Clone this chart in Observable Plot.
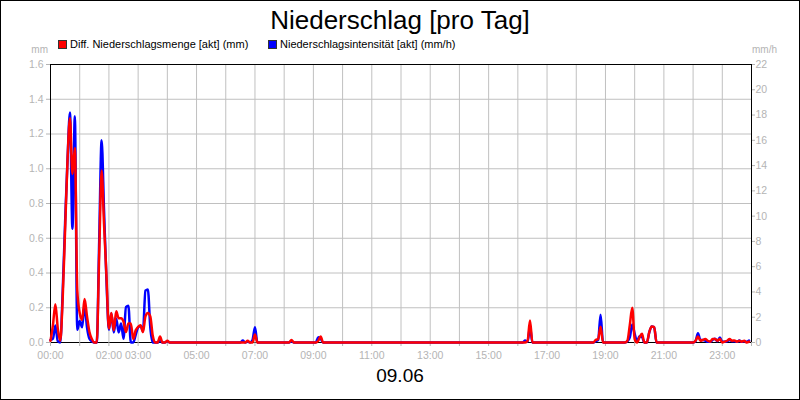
<!DOCTYPE html>
<html>
<head>
<meta charset="utf-8">
<script src="https://cdn.jsdelivr.net/npm/d3@7"></script>
<script src="https://cdn.jsdelivr.net/npm/@observablehq/plot@0.6"></script>
<style>
  html, body { margin: 0; padding: 0; background: #fff; }
  #wrap { position: relative; width: 800px; height: 400px; background: #fff; overflow: hidden;
          font-family: "Liberation Sans", Arial, sans-serif; }
  #wrap > * { position: absolute; }
  #chart { left: 0; top: 0; }
  #border { left: 0; top: 0; width: 800px; height: 400px; box-sizing: border-box; border: 1px solid #000; pointer-events: none; }
  .t { white-space: nowrap; line-height: 1; }
  #title { left: 0; width: 800px; text-align: center; top: 7px; font-size: 26px; color: #000; }
  .leg { font-size: 11px; color: #000; top: 39px; }
  .sw { width: 7px; height: 7px; border: 1px solid #333; top: 40px; }
  .unit { font-size: 10px; color: #b4b4b4; top: 45px; }
  #date { left: 0; width: 800px; text-align: center; top: 366px; font-size: 19px; color: #000; }
</style>
</head>
<body>
<div id="wrap">
  <div id="chart"></div>
  <div id="title" class="t"></div>
  <div id="sw1" class="sw" style="left:58px;background:#ff0000"></div>
  <div id="leg1" class="t leg" style="left:70px"></div>
  <div id="sw2" class="sw" style="left:268px;background:#0000ff"></div>
  <div id="leg2" class="t leg" style="left:280px"></div>
  <div id="unitL" class="t unit" style="right:752px"></div>
  <div id="unitR" class="t unit" style="left:752px"></div>
  <div id="date" class="t"></div>
  <div id="border"></div>
</div>
<script>
// ---- texts ----
const titleText = "Niederschlag [pro Tag]";
const seriesNames = ["Diff. Niederschlagsmenge [akt] (mm)", "Niederschlagsintensität [akt] (mm/h)"];
const unitLeft = "mm";
const unitRight = "mm/h";
const dateText = "09.06";

// ---- ticks ----
const leftTicks = [0, 0.2, 0.4, 0.6, 0.8, 1.0, 1.2, 1.4, 1.6];
const rightTicks = [0, 2, 4, 6, 8, 10, 12, 14, 16, 18, 20, 22];
const xLabelTicks = ["00:00", "02:00", "03:00", "05:00", "07:00", "09:00", "11:00", "13:00", "15:00", "17:00", "19:00", "21:00", "23:00"];

// ---- data (5-minute readings) ----
const times = [
  "00:00","00:05","00:10","00:15","00:20","00:25","00:30","00:35","00:40","00:45","00:50","00:55",
  "01:00","01:05","01:10","01:15","01:20","01:25","01:30","01:35","01:40","01:45","01:50","01:55",
  "02:00","02:05","02:10","02:15","02:20","02:25","02:30","02:35","02:40","02:45","02:50","02:55",
  "03:00","03:05","03:10","03:15","03:20","03:25","03:30","03:35","03:40","03:45","03:50","03:55",
  "04:00","04:05",
  "06:30","06:35","06:40","06:45","06:50","06:55","07:00","07:05",
  "08:10","08:15","08:20",
  "09:05","09:10","09:15","09:20",
  "16:10","16:15","16:20","16:25","16:30",
  "18:35","18:40","18:45","18:50","18:55",
  "19:40","19:45","19:50","19:55","20:00","20:05","20:10","20:15","20:20","20:25","20:30","20:35","20:40","20:45",
  "22:00","22:05","22:10","22:15","22:20","22:25","22:30","22:35","22:40","22:45","22:50","22:55",
  "23:00","23:05","23:10","23:15","23:20","23:25","23:30","23:35","23:40","23:45","23:50","23:55"
];
const menge = [ // mm
  0.01,0.10,0.22,0.08,0.01,0.25,0.65,1.05,1.29,0.97,1.12,0.30,
  0.17,0.13,0.25,0.15,0.06,0.02,0.00,0.00,0.50,0.99,0.68,0.38,
  0.08,0.17,0.07,0.18,0.14,0.14,0.12,0.06,0.11,0.11,0.02,0.07,
  0.09,0.10,0.06,0.15,0.17,0.15,0.04,0.00,0.00,0.035,0.00,0.00,
  0.01,0.00,
  0.00,0.00,0.00,0.01,0.00,0.00,0.046,0.00,
  0.00,0.015,0.00,
  0.00,0.01,0.035,0.00,
  0.00,0.00,0.01,0.127,0.00,
  0.00,0.015,0.02,0.09,0.00,
  0.00,0.01,0.10,0.20,0.02,0.00,0.03,0.05,0.00,0.00,0.06,0.092,0.09,0.00,
  0.00,0.01,0.035,0.01,0.015,0.02,0.01,0.005,0.02,0.02,0.01,0.02,
  0.00,0.005,0.01,0.02,0.01,0.012,0.005,0.01,0.005,0.01,0.00,0.005
];
const intensitaet = [ // mm/h
  0.2,0.3,1.35,0.1,0.0,4.0,9.5,14.5,18.2,9.0,17.9,1.0,
  1.7,1.2,3.0,1.2,0.3,0.1,0.0,0.0,8.0,16.0,10.4,4.9,
  1.0,2.3,0.8,1.9,0.8,1.5,0.3,2.8,2.9,0.0,0.0,0.6,
  1.2,1.3,0.9,4.1,4.2,1.2,0.0,0.0,0.0,0.2,0.0,0.0,
  0.1,0.0,
  0.0,0.15,0.0,0.05,0.0,0.2,1.2,0.0,
  0.0,0.1,0.0,
  0.0,0.42,0.3,0.0,
  0.0,0.15,0.05,1.2,0.0,
  0.0,0.1,0.2,2.2,0.0,
  0.0,0.1,0.4,1.43,0.69,0.1,0.5,0.45,0.0,0.0,0.8,1.27,1.2,0.0,
  0.0,0.1,0.74,0.2,0.2,0.15,0.05,0.05,0.2,0.3,0.1,0.4,
  0.05,0.05,0.1,0.2,0.1,0.1,0.05,0.15,0.05,0.1,0.05,0.15
];

// ---- build ----
const toMin = s => (+s.slice(0, 2)) * 60 + (+s.slice(3, 5));
const ratio = 22 / 1.6; // right axis (mm/h) per left axis (mm)
const rows = times.map((t, i) => ({t: toMin(t), m: menge[i], i: intensitaet[i]}));
const hourTicks = d3.range(0, 1441, 60);
const labelMins = xLabelTicks.map(toMin);
const labelOf = new Map(labelMins.map((m, i) => [m, xLabelTicks[i]]));
const gray = "#b4b4b4";

const chart = Plot.plot({
  width: 800,
  height: 400,
  marginTop: 64,
  marginBottom: 58,
  marginLeft: 50,
  marginRight: 49,
  style: {fontFamily: "'Liberation Sans', Arial, sans-serif", fontSize: "10.5px", background: "transparent"},
  x: {domain: [0, 1440]},
  y: {domain: [0, 1.6]},
  marks: [
    Plot.gridX(hourTicks, {stroke: "#c0c0c0", strokeOpacity: 1}),
    Plot.gridY(leftTicks, {stroke: "#c0c0c0", strokeOpacity: 1}),
    Plot.frame({stroke: "#000"}),
    Plot.axisY(leftTicks, {anchor: "left", tickSize: 4, tickPadding: 3, tickFormat: d => d.toFixed(1), color: gray, label: null}),
    Plot.axisY(rightTicks.map(v => v / ratio), {anchor: "right", tickSize: 3, tickPadding: 1, tickFormat: d => String(Math.round(d * ratio)), color: gray, label: null}),
    Plot.axisX(hourTicks, {anchor: "bottom", tickSize: 4, tickFormat: () => "", color: gray, label: null}),
    Plot.axisX(labelMins, {anchor: "bottom", tickSize: 0, tickPadding: 9, tickFormat: d => labelOf.get(d), color: gray, label: null}),
    Plot.line(rows, {x: "t", y: d => d.i / ratio, stroke: "#0000ff", strokeWidth: 2.5, curve: "monotone-x"}),
    Plot.line(rows, {x: "t", y: "m", stroke: "#ff0000", strokeWidth: 2.5, curve: "monotone-x"})
  ]
});
document.getElementById("chart").append(chart);
document.getElementById("title").textContent = titleText;
document.getElementById("leg1").textContent = seriesNames[0];
document.getElementById("leg2").textContent = seriesNames[1];
document.getElementById("unitL").textContent = unitLeft;
document.getElementById("unitR").textContent = unitRight;
document.getElementById("date").textContent = dateText;
</script>
</body>
</html>
